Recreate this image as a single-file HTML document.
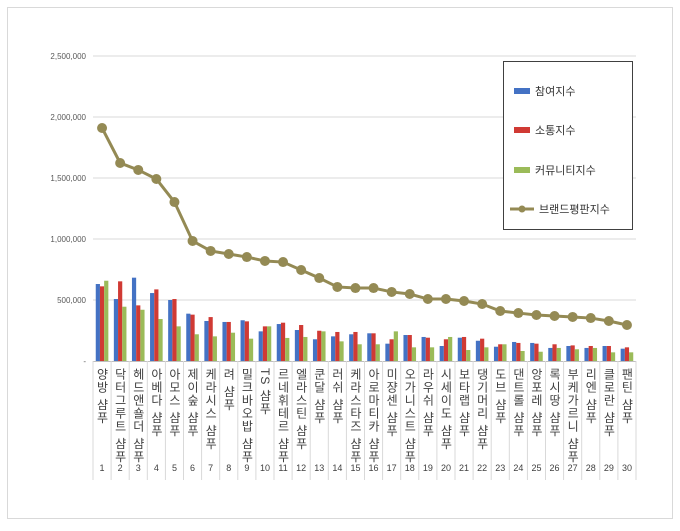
<!DOCTYPE html>
<html><head><meta charset="utf-8"><style>
body{margin:0;background:#fff;}
svg text{font-family:"Liberation Sans","Noto Sans CJK KR",sans-serif;}
</style></head><body>
<svg id="c" width="680" height="526" xmlns="http://www.w3.org/2000/svg">
<rect x="7.5" y="7.5" width="665" height="511" fill="#fff" stroke="#d9d9d9"/>
<g id="grid"></g><g id="bars"></g><g id="line"></g><g id="labels"></g>
<g>
<rect x="503.5" y="61.5" width="129" height="168" fill="#fff" stroke="#404040"/>
<rect x="514" y="88" width="16" height="6" fill="#4472c4"/>
<text x="535" y="95" font-size="11" fill="#333">참여지수</text>
<rect x="514" y="127" width="16" height="6" fill="#d03a34"/>
<text x="535" y="134" font-size="11" fill="#333">소통지수</text>
<rect x="514" y="167" width="16" height="6" fill="#9bbb59"/>
<text x="535" y="174" font-size="11" fill="#333">커뮤니티지수</text>
<line x1="510" y1="209" x2="534" y2="209" stroke="#948a54" stroke-width="3"/>
<circle cx="522" cy="209" r="3.5" fill="#948a54"/>
<text x="539" y="213" font-size="11" fill="#333">브랜드평판지수</text>
</g>
</svg>
<script>
const categories=["양방 샴푸","닥터그루트 샴푸","헤드앤숄더 샴푸","아베다 샴푸","아모스 샴푸","제이숲 샴푸","케라시스 샴푸","려 샴푸","밀크바오밥 샴푸","TS 샴푸","르네휘테르 샴푸","엘라스틴 샴푸","쿤달 샴푸","러쉬 샴푸","케라스타즈 샴푸","아로마티카 샴푸","미쟝센 샴푸","오가니스트 샴푸","라우쉬 샴푸","시세이도 샴푸","보타랩 샴푸","댕기머리 샴푸","도브 샴푸","댄트롤 샴푸","앙포레 샴푸","록시땅 샴푸","부케가르니 샴푸","리엔 샴푸","클로란 샴푸","팬틴 샴푸"];
const participation=[631000,508000,683000,557000,500000,388000,328000,320000,334000,243000,303000,254000,178000,202000,219000,227000,142000,213000,197000,123000,191000,166000,117000,156000,148000,107000,123000,107000,123000,101000];
const communication=[612000,653000,456000,587000,508000,380000,360000,320000,325000,284000,314000,295000,248000,238000,238000,227000,178000,213000,191000,178000,197000,183000,137000,148000,142000,137000,128000,123000,123000,112000];
const community=[658000,445000,420000,344000,284000,219000,202000,232000,183000,284000,189000,197000,243000,161000,137000,137000,243000,112000,112000,197000,90000,112000,137000,82000,76000,107000,96000,107000,71000,71000];
const brand=[1910000,1623000,1566000,1492000,1303000,984000,902000,877000,852000,820000,811000,746000,680000,607000,598000,598000,566000,549000,508000,508000,492000,467000,410000,393000,377000,369000,361000,352000,328000,295000];
const yTicks=[0,500000,1000000,1500000,2000000,2500000];
const yTickLabels=["-","500,000","1,000,000","1,500,000","2,000,000","2,500,000"];
const NS="http://www.w3.org/2000/svg";
const X0=93,X1=636,Y0=361,YMAX=2500000,YTOP=56;
const bw=(X1-X0)/categories.length;
const y=v=>Y0-(v/YMAX)*(Y0-YTOP);
const xc=i=>X0+bw*(i+0.5);
function mk(tag,parent,attrs){const e=document.createElementNS(NS,tag);for(const k in attrs)e.setAttribute(k,attrs[k]);document.getElementById(parent).appendChild(e);return e;}
yTicks.forEach((t,i)=>{
  if(t>0){const g=mk('line','grid',{x1:X0,x2:X1,y1:y(t),y2:y(t),stroke:'#d9d9d9'});
  
  }
  const tx=mk('text','grid',{x:86,y:y(t)+3,'font-size':'8','text-anchor':'end',fill:'#595959'});
  tx.textContent=yTickLabels[i];
  
  
});
const ax=mk('line','grid',{x1:X0,x2:X1,y1:Y0+0.5,y2:Y0+0.5,stroke:'#bfbfbf'});


for(let i=0;i<=categories.length;i++){
  const l=mk('line','grid',{x1:X0+bw*i,x2:X0+bw*i,y1:Y0,y2:480,stroke:'#d9d9d9'});
  
  
}
const series=[[participation,'#4472c4'],[communication,'#d03a34'],[community,'#9bbb59']];
const w=4.2;
categories.forEach((c,i)=>{
  series.forEach((s,j)=>{
    const v=s[0][i];
    const r=mk('rect','bars',{x:xc(i)-1.5*w+j*w,y:y(v),width:w,height:Y0-y(v),fill:s[1]});
    
    
  });
  const t=mk('text','labels',{x:xc(i),y:368,'font-size':'12',fill:'#404040',style:'writing-mode:vertical-rl;text-orientation:mixed;letter-spacing:1px'});
  t.textContent=c;
  
  
  const n=mk('text','labels',{x:xc(i),y:471,'font-size':'9','text-anchor':'middle',fill:'#404040'});
  n.textContent=String(i+1);
  
  
});
const pl=mk('polyline','line',{points:brand.map((v,i)=>xc(i)+','+y(v)).join(' '),fill:'none',stroke:'#948a54','stroke-width':'3'});


brand.forEach((v,i)=>{
  const p=mk('circle','line',{cx:xc(i),cy:y(v),r:5,fill:'#948a54'});
  
  
});
</script>
</body></html>
